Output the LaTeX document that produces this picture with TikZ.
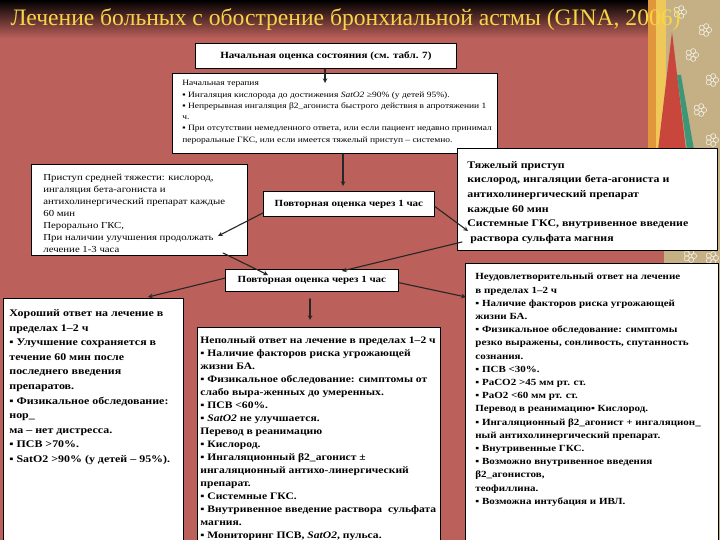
\documentclass[tikz,border=0pt]{standalone}
\usepackage{fontspec}
\usetikzlibrary{calc}
\setmainfont{Liberation Serif}[FakeStretch=1.17]
\newfontfamily\titlefont{Liberation Serif}
\definecolor{slide}{RGB}{187,96,90}
\definecolor{titleyellow}{RGB}{246,214,70}
\definecolor{beige}{RGB}{196,176,132}
\definecolor{stripe}{RGB}{226,150,60}
\definecolor{stripey}{RGB}{240,200,90}
\definecolor{redstripe}{RGB}{200,70,60}
\definecolor{greenstripe}{RGB}{60,150,120}
\tikzset{
  box/.style={draw=black, fill=white, line width=0.8pt, inner xsep=5pt, inner ysep=4pt, anchor=north west},
  arr/.style={->, line width=1.1pt, draw=black!85}
}
\begin{document}
\begin{tikzpicture}[x=1pt, y=-1pt, line join=round, line cap=round, >=stealth]
\useasboundingbox (0,0) rectangle (720,540);
% background
\fill[slide] (0,0) rectangle (720,540);
\shade[top color=black, bottom color=slide] (0,0) rectangle (650,38);
\fill[beige] (664,0) rectangle (720,540);
\fill[stripe] (648,0) rectangle (656,150);
\fill[stripey] (656,0) rectangle (666,150);
\fill[redstripe] (672,32) -- (658,150) -- (686,150) -- cycle;
\fill[greenstripe] (677,75) -- (687,150) -- (694,150) -- (681,75) -- cycle;
\foreach \fx/\fy in {680/12, 705/30, 692/55, 712/80, 700/110, 712/140, 690/256, 712/258} {
  \foreach \a in {0,72,...,288}
    \draw[white!80!beige, line width=0.6pt] (\fx,\fy) ++(\a:4pt) circle (2.6pt);
}
\node[anchor=base west, text=titleyellow, font=\titlefont\fontsize{23.6}{24}\selectfont] (title) at (7,26)
  {Лечение больных с обострение бронхиальной астмы (GINA, 2006)};

% boxes
\node[box] (start) at (195,43)
  {\parbox[t][17pt][c]{251pt}{\centering\bfseries\fontsize{9.5}{11}\selectfont Начальная оценка состояния (см. табл. 7)}};
\node[box, inner xsep=3pt, inner ysep=7pt] (therapy) at (172,73)
  {\parbox[t][66pt][t]{319pt}{\raggedright\leftskip=7pt\fontsize{8.1}{11.3}\selectfont
   Начальная терапия\\
   ▪ Ингаляция кислорода до достижения \textit{SatO2} ≥90\% (у детей 95\%).\\
   ▪ Непрерывная ингаляция β2\_агониста быстрого действия в апротяжении 1\\
   ч.\\
   ▪ При отсутствии немедленного ответа, или если пациент недавно принимал\\
   пероральные ГКС, или если имеется тяжелый приступ – системно.}};
\node[box, inner xsep=12pt, inner ysep=10pt] (moderate) at (31,164)
  {\parbox[t][71pt][t]{192pt}{\raggedright\fontsize{9.2}{12}\selectfont
   Приступ средней тяжести: кислород,\\
   ингаляция бета-агониста и\\
   антихолинергический препарат каждые\\
   60 мин\\
   Перорально ГКС,\\
   При наличии улучшения продолжать\\
   лечение 1-3 часа}};
\node[box] (reeval1) at (263,191)
  {\parbox[t][17pt][c]{161pt}{\centering\bfseries\fontsize{9.4}{11}\selectfont Повторная оценка через 1 час}};
\node[box, inner xsep=10pt, inner ysep=13pt] (severe) at (457,148)
  {\parbox[t][76pt][t]{240pt}{\raggedright\bfseries\fontsize{10.15}{14.6}\selectfont
   Тяжелый приступ\\
   кислород, ингаляции бета-агониста и\\
   антихолинергический препарат\\
   каждые 60 мин\\
   Системные ГКС, внутривенное введение\\
   \ раствора сульфата магния}};
\node[box] (reeval2) at (225,269)
  {\parbox[t][14pt][c]{163pt}{\centering\bfseries\fontsize{9.4}{11}\selectfont Повторная оценка через 1 час}};
\node[box, inner xsep=6pt, inner ysep=11pt] (good) at (3,298)
  {\parbox[t][228pt][t]{168pt}{\raggedright\bfseries\fontsize{10.2}{14.6}\selectfont
   Хороший ответ на лечение в\\
   пределах 1–2 ч\\
   ▪ Улучшение сохраняется в\\
   течение 60 мин после\\
   последнего введения\\
   препаратов.\\
   ▪ Физикальное обследование:\\
   нор\_\\
   ма – нет дистресса.\\
   ▪ ПСВ >70\%.\\
   ▪ SatO2 >90\% (у детей – 95\%).}};
\node[box, inner xsep=3pt, inner ysep=9pt] (partial) at (197,327)
  {\parbox[t][202pt][t]{237pt}{\raggedright\bfseries\fontsize{9.9}{13}\selectfont
   Неполный ответ на лечение в пределах 1–2 ч\\
   ▪ Наличие факторов риска угрожающей\\
   жизни БА.\\
   ▪ Физикальное обследование: симптомы от\\
   слабо выра-женных до умеренных.\\
   ▪ ПСВ <60\%.\\
   ▪ \textit{SatO2} не улучшается.\\
   Перевод в реанимацию\\
   ▪ Кислород.\\
   ▪ Ингаляционный β2\_агонист ±\\
   ингаляционный антихо-линергический\\
   препарат.\\
   ▪ Системные ГКС.\\
   ▪ Внутривенное введение раствора\ \ сульфата\\
   магния.\\
   ▪ Мониторинг ПСВ, \textit{SatO2}, пульса.}};
\node[box, inner xsep=4pt, inner ysep=10pt] (poor) at (465,263)
  {\parbox[t][270pt][t]{245pt}{\raggedright\leftskip=6pt\bfseries\fontsize{9.4}{13.2}\selectfont
   Неудовлетворительный ответ на лечение\\
   в пределах 1–2 ч\\
   ▪ Наличие факторов риска угрожающей\\
   жизни БА.\\
   ▪ Физикальное обследование: симптомы\\
   резко выражены, сонливость, спутанность\\
   сознания.\\
   ▪ ПСВ <30\%.\\
   ▪ PaCO2 >45 мм рт. ст.\\
   ▪ PaO2 <60 мм рт. ст.\\
   Перевод в реанимацию▪ Кислород.\\
   ▪ Ингаляционный β2\_агонист + ингаляцион\_\\
   ный антихолинергический препарат.\\
   ▪ Внутривенные ГКС.\\
   ▪ Возможно внутривенное введения\\
   β2\_агонистов,\\
   теофиллина.\\
   ▪ Возможна интубация и ИВЛ.}};

% arrow ends
\path (325,83) coordinate (tipA)
      (343,186) coordinate (tipB)
      (218,236) coordinate (tipC)
      (468,231) coordinate (tipD)
      (223,253) coordinate (srcE)
      (268,275) coordinate (tipE)
      (462,242) coordinate (srcF)
      (342,271) coordinate (tipF)
      (148,297) coordinate (tipG)
      (466,297) coordinate (tipH)
      (310,320) coordinate (tipI);
\draw[arr] (start.south -| tipA) -- (tipA);
\draw[arr] (therapy.south -| tipB) -- (tipB);
\draw[arr] ($(reeval1.south west)!0.15!(reeval1.north west)$) -- (tipC);
\draw[arr] ($(reeval1.south east)!0.4!(reeval1.north east)$) -- (tipD);
\draw[arr] (srcE) -- (tipE);
\draw[arr] (srcF) -- (tipF);
\draw[arr] ($(reeval2.south west)!0.6!(reeval2.north west)$) -- (tipG);
\draw[arr] ($(reeval2.south east)!0.4!(reeval2.north east)$) -- (tipH);
\draw[arr] (reeval2.south -| tipI) ++(0,7) -- (tipI);
\end{tikzpicture}
\end{document}
